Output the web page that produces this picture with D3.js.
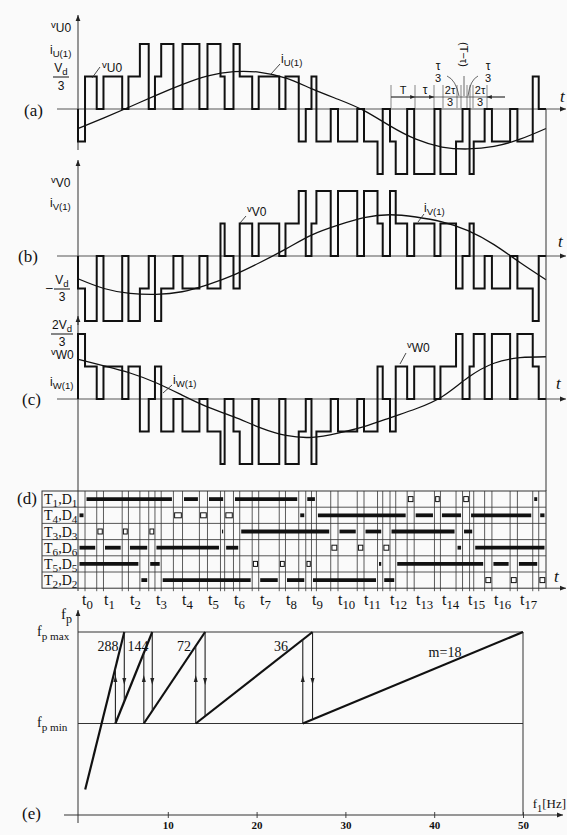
<!DOCTYPE html>
<html>
<head>
<meta charset="utf-8">
<script src="https://cdn.jsdelivr.net/npm/d3@7"></script>
<style>
body { margin: 0; background: #fafafa; }
svg { display: block; }
.sans { font-family: "Liberation Sans", Arial, sans-serif; fill: #111; }
.ser { font-family: "Liberation Serif", "Times New Roman", serif; fill: #111; }
</style>
</head>
<body>
<div class="chart"></div>
<script>
// Define SVG area dimensions
var svgWidth = 567;
var svgHeight = 835;

// ---------- data ----------
// sampling instants t0..t17 (one output period = 18 intervals T)
var tIndex = [0, 1, 2, 3, 4, 5, 6, 7, 8, 9, 10, 11, 12, 13, 14, 15, 16, 17];

// conduction of the six devices, [start, end, kind] in units of T
// kind "T" = transistor (solid bar), "D" = diode (open bar)
var rowT1 = [[0.27, 3.67, "T"], [4.02, 4.67, "T"], [4.98, 5.64, "T"], [5.98, 8.49, "T"], [8.76, 9.17, "T"],
  [12.66, 12.93, "D"], [13.71, 13.94, "D"], [14.79, 15.06, "D"], [17.49, 17.72, "T"]];
var rowT4 = [[0, 0.27, "T"], [3.67, 4.02, "D"], [4.67, 4.98, "D"], [5.64, 5.98, "D"], [8.49, 8.76, "T"],
  [9.17, 12.66, "T"], [12.93, 13.71, "T"], [13.94, 14.79, "T"], [15.06, 17.49, "T"], [17.72, 18, "T"]];
var rowT3 = [[0.72, 0.98, "D"], [1.70, 1.94, "D"], [2.72, 2.96, "D"], [5.48, 5.64, "T"], [6.22, 9.72, "T"],
  [10.0, 10.74, "T"], [11.0, 11.72, "T"], [12.0, 14.54, "T"], [14.79, 15.22, "T"]];
var rowT6 = [[0, 0.72, "T"], [0.98, 1.70, "T"], [1.94, 2.72, "T"], [2.96, 5.48, "T"], [5.64, 6.22, "T"],
  [9.72, 10.0, "D"], [10.74, 11.0, "D"], [11.72, 12.0, "D"], [14.54, 14.79, "T"], [15.22, 18, "T"]];
var rowT5 = [[0, 2.38, "T"], [2.72, 3.2, "T"], [6.7, 6.95, "D"], [7.74, 7.98, "D"], [8.76, 8.98, "D"],
  [11.52, 11.72, "T"], [12.22, 15.64, "T"], [15.92, 16.62, "T"], [16.9, 17.72, "T"]];
var rowT2 = [[2.38, 2.72, "T"], [3.2, 6.7, "T"], [6.95, 7.74, "T"], [7.98, 8.76, "T"], [8.98, 11.52, "T"],
  [11.72, 12.22, "T"], [15.64, 15.92, "D"], [16.62, 16.9, "D"], [17.72, 18, "D"]];
var rowNumbers = ["1", "4", "3", "6", "5", "2"];

// fundamental phase currents (units of Vd/3), read at t = 0..18
var currentT = [0, 1, 2, 3, 4, 5, 6, 7, 8, 9, 10, 11, 12, 13, 14, 15, 16, 17, 18];
var iU = [-0.6, -0.27, 0.07, 0.42, 0.75, 1.02, 1.15, 1.13, 0.95, 0.62, 0.3, -0.05, -0.52, -0.93, -1.17, -1.23, -1.15, -0.93, -0.6];
var iV = [-0.7, -1.0, -1.15, -1.18, -1.1, -0.88, -0.58, -0.2, 0.22, 0.65, 0.95, 1.18, 1.27, 1.2, 1.05, 0.78, 0.35, -0.2, -0.73];
var iW = [1.22, 1.02, 0.8, 0.5, 0.12, -0.25, -0.55, -0.88, -1.12, -1.18, -1.05, -0.85, -0.58, -0.3, 0.07, 0.66, 1.1, 1.27, 1.3];

// panel (e): carrier frequency fp against output frequency f1
var f1Ticks = [10, 20, 30, 40, 50];
var fpMin = 450;
var fpMax = 900;
var mNames = ["288", "144", "72", "36", "m=18"];
var mStart = [[0.7, 125], [4.1, 450], [7.3, 450], [13.15, 450], [25.2, 450]];
var mEnd = [[5.1, 900], [8.25, 900], [14.2, 900], [26.3, 900], [50, 900]];

// ---------- svg ----------
var svg = d3.select(".chart").append("svg")
  .attr("width", svgWidth)
  .attr("height", svgHeight);

svg.append("rect").attr("width", svgWidth).attr("height", svgHeight).attr("fill", "#fafafa");

var defs = svg.append("defs");
defs.append("marker").attr("id", "arr")
  .attr("viewBox", "0 0 10 10").attr("refX", 10).attr("refY", 5)
  .attr("markerWidth", 9).attr("markerHeight", 6)
  .attr("orient", "auto-start-reverse")
  .append("path").attr("d", "M0,1 L10,5 L0,9 z").attr("fill", "#222");

// label with sub/superscript parts: [text, shift]
function label(g, px, py, parts, cls, size, anchor) {
  var t = g.append("text").attr("x", px).attr("y", py).attr("class", cls)
    .style("font-size", size + "px").attr("text-anchor", anchor || "start");
  var cur = 0;
  parts.forEach(function(p) {
    var sh = p[1] || 0;
    t.append("tspan").attr("dy", sh - cur)
      .style("font-size", sh ? (size * 0.8) + "px" : null)
      .text(p[0]);
    cur = sh;
  });
  return t;
}

function arrowLine(x1, y1, x2, y2, w) {
  return svg.append("line").attr("x1", x1).attr("y1", y1).attr("x2", x2).attr("y2", y2)
    .attr("stroke", "#333").attr("stroke-width", w || 1).attr("marker-end", "url(#arr)");
}

// Scales
var x = d3.scaleLinear().domain([0, 18]).range([78, 546]);
var ya = d3.scaleLinear().domain([-2, 2]).range([174, 44]);
var yb = d3.scaleLinear().domain([-2, 2]).range([321, 191]);
var yc = d3.scaleLinear().domain([-2, 2]).range([464, 334]);

// ---------- phase voltages from the leg states ----------
var edges = [0, 18];
[rowT1, rowT3, rowT5].forEach(function(r) {
  r.forEach(function(s) { edges.push(s[0], s[1]); });
});
edges = Array.from(new Set(edges)).sort(d3.ascending);

function state(row, t) {
  return row.some(function(s) { return t >= s[0] && t < s[1]; }) ? 1 : 0;
}
function phaseVoltage(own, o1, o2) {
  var pts = [[0, 0]];
  for (var i = 0; i < edges.length - 1; i++) {
    var tm = (edges[i] + edges[i + 1]) / 2;
    pts.push([edges[i], 2 * state(own, tm) - state(o1, tm) - state(o2, tm)]);
  }
  pts.push([18, pts[pts.length - 1][1]]);
  return pts;
}

var vU = phaseVoltage(rowT1, rowT3, rowT5);
var vV = phaseVoltage(rowT3, rowT1, rowT5);
var vW = phaseVoltage(rowT5, rowT1, rowT3);

var panels = [
  {y: ya, v: vU, i: iU, axTop: 15, axBot: 150},
  {y: yb, v: vV, i: iV, axTop: 160, axBot: 325},
  {y: yc, v: vW, i: iW, axTop: 316, axBot: 591}
];

panels.forEach(function(p) {
  // time axis
  svg.append("line").attr("x1", 57).attr("x2", 566)
    .attr("y1", p.y(0)).attr("y2", p.y(0))
    .attr("stroke", "#555").attr("stroke-width", 1).attr("marker-end", "url(#arr)");
  // vertical axis
  arrowLine(78, p.axBot, 78, p.axTop, 1);

  svg.append("path").datum(p.v)
    .attr("d", d3.line().x(function(d) { return x(d[0]); })
      .y(function(d) { return p.y(d[1]); }).curve(d3.curveStepAfter))
    .attr("fill", "none").attr("stroke", "#111").attr("stroke-width", 2);

  svg.append("path").datum(p.i)
    .attr("d", d3.line().x(function(d, k) { return x(currentT[k]); })
      .y(function(d) { return p.y(d); }).curve(d3.curveNatural))
    .attr("fill", "none").attr("stroke", "#111").attr("stroke-width", 1.3);
});

// right boundary
svg.append("line").attr("x1", x(18)).attr("x2", x(18)).attr("y1", ya(0)).attr("y2", 491)
  .attr("stroke", "#333").attr("stroke-width", 1);

// ---------- labels of (a), (b), (c) ----------
var ser = "ser", sans = "sans";
label(svg, 24, 116, [["(a)"]], ser, 17);
label(svg, 18, 262, [["(b)"]], ser, 17);
label(svg, 22, 405, [["(c)"]], ser, 17);
label(svg, 17, 504, [["(d)"]], ser, 17);
label(svg, 22, 819, [["(e)"]], ser, 17);

label(svg, 560, 102, [["t"]], ser, 17).style("font-style", "italic");
label(svg, 558, 247, [["t"]], ser, 17).style("font-style", "italic");
label(svg, 556, 389, [["t"]], ser, 17).style("font-style", "italic");
label(svg, 554, 582, [["t"]], ser, 17).style("font-style", "italic");

label(svg, 51, 32, [["v", -4], ["U0", 0]], sans, 12);
label(svg, 50, 54, [["i", 0], ["U(1)", 3]], sans, 12);
label(svg, 61, 72, [["V", 0], ["d", 3]], sans, 12, "middle");
svg.append("line").attr("x1", 53).attr("x2", 69).attr("y1", 77).attr("y2", 77).attr("stroke", "#111");
label(svg, 61, 90, [["3"]], sans, 12, "middle");

label(svg, 51, 187, [["v", -4], ["V0", 0]], sans, 12);
label(svg, 50, 207, [["i", 0], ["V(1)", 3]], sans, 12);
label(svg, 46, 292, [["–"]], sans, 12);
label(svg, 62, 284, [["V", 0], ["d", 3]], sans, 12, "middle");
svg.append("line").attr("x1", 54).attr("x2", 70).attr("y1", 289).attr("y2", 289).attr("stroke", "#111");
label(svg, 62, 301, [["3"]], sans, 12, "middle");

label(svg, 62, 329, [["2V", 0], ["d", 3]], sans, 12, "middle");
svg.append("line").attr("x1", 51).attr("x2", 73).attr("y1", 334).attr("y2", 334).attr("stroke", "#111");
label(svg, 62, 346, [["3"]], sans, 12, "middle");
label(svg, 51, 359, [["v", -4], ["W0", 0]], sans, 12);
label(svg, 50, 386, [["i", 0], ["W(1)", 3]], sans, 12);

// pointers to the curves
function pointer(lx, ly, x1, y1, x2, y2, parts) {
  label(svg, lx, ly, parts, sans, 12);
  svg.append("line").attr("x1", x1).attr("y1", y1).attr("x2", x2).attr("y2", y2)
    .attr("stroke", "#333").attr("stroke-width", 0.9);
}
pointer(102, 72, 100, 67, 92, 78, [["v", -4], ["U0", 0]]);
pointer(281, 63, 280, 64, 271, 74, [["i", 0], ["U(1)", 3]]);
pointer(247, 216, 246, 216, 240, 223, [["v", -4], ["V0", 0]]);
pointer(424, 212, 424, 214, 418, 222, [["i", 0], ["V(1)", 3]]);
pointer(173, 384, 172, 385, 163, 393, [["i", 0], ["W(1)", 3]]);
pointer(407, 352, 406, 353, 400, 364, [["v", -4], ["W0", 0]]);

// dimension sketch in (a)
var dimX = [391, 415, 434, 443, 457, 461, 467, 470, 473, 487];
dimX.forEach(function(d) {
  svg.append("line").attr("x1", d).attr("x2", d).attr("y1", 85).attr("y2", 108)
    .attr("stroke", "#555").attr("stroke-width", 0.7);
});
svg.append("line").attr("x1", 391).attr("x2", 505).attr("y1", 97).attr("y2", 97)
  .attr("stroke", "#444").attr("stroke-width", 0.8);
[[391, 415], [415, 434]].forEach(function(s) {
  arrowLine(s[0], 97, s[1], 97, 0.8);
});
arrowLine(505, 97, 487, 97, 0.8);
label(svg, 403, 94, [["T"]], sans, 11, "middle");
label(svg, 425, 94, [["τ"]], sans, 12, "middle");
label(svg, 450, 94, [["2τ"]], sans, 11, "middle");
label(svg, 450, 106, [["3"]], sans, 11, "middle");
label(svg, 480, 94, [["2τ"]], sans, 11, "middle");
label(svg, 480, 106, [["3"]], sans, 11, "middle");
label(svg, 438, 70, [["τ"]], sans, 12, "middle");
label(svg, 438, 82, [["3"]], sans, 11, "middle");
label(svg, 488, 70, [["τ"]], sans, 12, "middle");
label(svg, 488, 82, [["3"]], sans, 11, "middle");
svg.append("text").attr("class", "sans").style("font-size", "11px")
  .attr("transform", "translate(460,42) rotate(90)").text("(T−τ)");
svg.append("path").attr("d", "M447,76 Q456,80 459,96 M478,76 Q470,80 468,96 M464,76 L464,96")
  .attr("fill", "none").attr("stroke", "#444").attr("stroke-width", 0.8);

// ---------- panel (d): conduction table ----------
var tableTop = 491;
var rowH = 16.2;
var rows = [rowT1, rowT4, rowT3, rowT6, rowT5, rowT2];

var allEdges = [];
rows.forEach(function(r) { r.forEach(function(s) { allEdges.push(s[0], s[1]); }); });
allEdges = Array.from(new Set(allEdges)).filter(function(t) { return t > 0 && t < 18; });

var table = svg.append("g");
table.append("rect").attr("x", 42).attr("y", tableTop).attr("width", x(18) - 42).attr("height", rowH * 6)
  .attr("fill", "none").attr("stroke", "#333").attr("stroke-width", 1);
d3.range(1, 6).forEach(function(k) {
  table.append("line").attr("x1", 42).attr("x2", x(18))
    .attr("y1", tableTop + k * rowH).attr("y2", tableTop + k * rowH)
    .attr("stroke", "#444").attr("stroke-width", 0.9);
});
table.selectAll("line.grid").data(allEdges).enter().append("line")
  .attr("x1", function(d) { return x(d); }).attr("x2", function(d) { return x(d); })
  .attr("y1", tableTop).attr("y2", tableTop + rowH * 6 + 3)
  .attr("stroke", "#333").attr("stroke-width", 0.8);

// bottom time axis of (d)
svg.append("line").attr("x1", x(18)).attr("x2", 566).attr("y1", tableTop + rowH * 6).attr("y2", tableTop + rowH * 6)
  .attr("stroke", "#444").attr("marker-end", "url(#arr)");

rows.forEach(function(r, k) {
  var cy = tableTop + rowH * (k + 0.5);
  table.selectAll("line.bar" + k).data(r.filter(function(s) { return s[2] === "T"; }))
    .enter().append("line")
    .attr("x1", function(s) { return x(s[0]) + 1.5; })
    .attr("x2", function(s) { return x(s[1]) - 1.5; })
    .attr("y1", cy).attr("y2", cy)
    .attr("stroke", "#111").attr("stroke-width", 3.8);
  table.selectAll("rect.dio" + k).data(r.filter(function(s) { return s[2] === "D"; }))
    .enter().append("rect")
    .attr("x", function(s) { return x(s[0]) + 1.2; })
    .attr("width", function(s) { return x(s[1]) - x(s[0]) - 2.4; })
    .attr("y", cy - 2.5).attr("height", 5)
    .attr("fill", "#fff").attr("stroke", "#111").attr("stroke-width", 1);
  var n = rowNumbers[k];
  label(table, 44, cy + 5, [["T", 0], [n, 3], [",D", 0], [n, 3]], ser, 14);
});

// t0..t17 labels
tIndex.forEach(function(k) {
  label(svg, x(k) + (k === 0 ? 4 : 0), 605, [["t", 0], [String(k), 4]], ser, 16);
});

// ---------- panel (e) ----------
var fx = d3.scaleLinear().domain([0, 50]).range([79, 523]);
var fy = d3.scaleLinear().domain([0, fpMax]).range([815, 632]);

var eAxis = svg.append("g").attr("transform", "translate(0," + fy(0) + ")")
  .call(d3.axisBottom(fx).tickValues(f1Ticks).tickSize(3).tickPadding(3));
eAxis.select(".domain").remove();
eAxis.selectAll(".tick line").attr("y1", -3).attr("stroke", "#444");
eAxis.selectAll(".tick text").attr("class", "ser")
  .style("font-size", "11px").style("font-weight", "bold").attr("fill", "#111");

arrowLine(64, fy(0), 563, fy(0), 1);
arrowLine(78, fy(0) + 8, 78, 610, 1);

// fp limits and the 50 Hz border
[fpMin, fpMax].forEach(function(v) {
  svg.append("line").attr("x1", 78).attr("x2", fx(50)).attr("y1", fy(v)).attr("y2", fy(v))
    .attr("stroke", "#333").attr("stroke-width", 1);
});
svg.append("line").attr("x1", fx(50)).attr("x2", fx(50)).attr("y1", fy(fpMax)).attr("y2", fy(0))
  .attr("stroke", "#333").attr("stroke-width", 1);

function fpOn(k, f) {
  return mStart[k][1] + (mEnd[k][1] - mStart[k][1]) * (f - mStart[k][0]) / (mEnd[k][0] - mStart[k][0]);
}

var fLine = d3.line().x(function(d) { return fx(d[0]); }).y(function(d) { return fy(d[1]); });
mStart.forEach(function(s, k) {
  svg.append("path").datum([s, mEnd[k]]).attr("d", fLine)
    .attr("fill", "none").attr("stroke", "#111").attr("stroke-width", 2.2);
});

// switching jumps with arrows
function jump(f, from, to) {
  var px = fx(f);
  svg.append("line").attr("x1", px).attr("x2", px).attr("y1", fy(from)).attr("y2", fy(to))
    .attr("stroke", "#222").attr("stroke-width", 1.1);
  var ay = fy(664);
  var dir = to > from ? -1 : 1;
  svg.append("path")
    .attr("d", "M" + px + "," + (ay + dir * 5) + " L" + (px - 2) + "," + (ay - dir * 2) +
      " L" + (px + 2) + "," + (ay - dir * 2) + " Z")
    .attr("fill", "#222");
}
for (var k = 1; k < mStart.length; k++) {
  jump(mStart[k][0], fpMin, fpOn(k - 1, mStart[k][0]));
}
for (var j = 0; j < mEnd.length - 1; j++) {
  jump(mEnd[j][0], fpMax, fpOn(j + 1, mEnd[j][0]));
}

var mPos = [[108, 651], [138, 651], [184, 651], [281, 651], [445, 657]];
mNames.forEach(function(nm, k) {
  label(svg, mPos[k][0], mPos[k][1], [[nm]], ser, 14, "middle");
});

label(svg, 61, 619, [["f", 0], ["p", 4]], ser, 15);
label(svg, 37, 636, [["f", 0], ["p max", 4]], ser, 14);
label(svg, 37, 727, [["f", 0], ["p min", 4]], ser, 14);
label(svg, 566, 808, [["f", 0], ["1", 4], ["[Hz]", 0]], ser, 13, "end");
</script>
</body>
</html>
